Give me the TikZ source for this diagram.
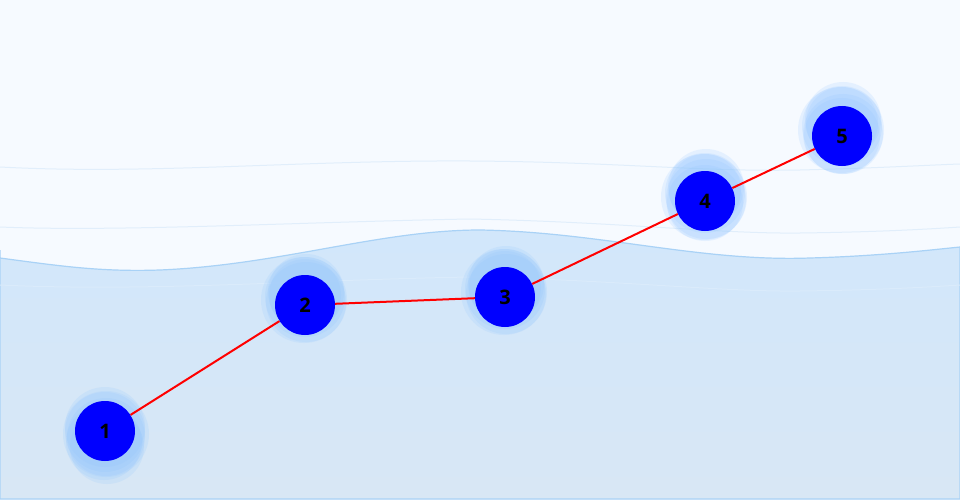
\documentclass[tikz,border=0pt]{standalone}
\usepackage{fontspec}
\setmainfont{Open Sans}
\definecolor{skybg}{HTML}{F6FAFF}
\definecolor{seatop}{HTML}{D2E7FB}
\definecolor{seabot}{HTML}{D8E7F5}
\definecolor{seaedge}{HTML}{A9D2F6}
\definecolor{faint}{HTML}{E1EEFB}
\definecolor{halo}{HTML}{8EC4FF}
\tikzset{
  x=1pt,y=-1pt,
  dot/.style={circle,fill={rgb,255:red,0;green,0;blue,255},minimum size=60pt,inner sep=0pt,font=\bfseries\fontsize{20}{20}\selectfont,text=black},
  halo/.style={fill=halo,fill opacity=0.17,draw=none},
  link/.style={draw=red,line width=2pt}
}
\begin{document}
\begin{tikzpicture}
\fill[skybg] (0,0) rectangle (960,500);
\useasboundingbox (0,0) rectangle (960,500);
% faint lines
\draw[faint,line width=1pt] (0,167) .. controls (150,175) and (300,160) .. (470,161) .. controls (620,162) and (700,172) .. (800,170) .. controls (880,168) and (930,165) .. (960,164);
\draw[faint,line width=1pt] (0,227) .. controls (120,232) and (300,222) .. (470,219) .. controls (620,222) and (720,234) .. (800,233) .. controls (880,232) and (930,229) .. (960,227);
% sea
\shade[top color=seatop,bottom color=seabot,draw=seaedge,line width=1.2pt]
  (0,250) -- (0,258) .. controls (60,266) and (100,272) .. (160,270) .. controls (280,265) and (380,230) .. (480,230) .. controls (600,232) and (700,262) .. (810,258) .. controls (880,256) and (930,250) .. (960,247) -- (960,499) -- (0,499) -- cycle;
\draw[faint!50!seatop,line width=1pt] (0,285) .. controls (150,292) and (300,280) .. (470,277) .. controls (620,280) and (720,292) .. (800,291) .. controls (880,290) and (930,287) .. (960,285);
% halos
\foreach \dx/\dy/\r in {0/0/40,1/5/39,-1/10/38,2/15/37,0/-5/40,1/2/43}{
  \fill[halo] (105+\dx,432+\dy) circle (\r);
}
\foreach \dx/\dy/\r in {0/-5/40,1/-10/38,-1/-2/43,0/-7/36,1/0/40}{
  \fill[halo] (305+\dx,302+\dy) circle (\r);
}
\foreach \dx/\dy/\r in {0/-5/40,1/-10/38,-1/-2/43,0/-7/36,1/0/40}{
  \fill[halo] (505+\dx,294+\dy) circle (\r);
}
\foreach \dx/\dy/\r in {0/-8/40,1/-14/38,-1/-4/43,0/-11/36,1/-2/40,0/2/38}{
  \fill[halo] (705+\dx,201+\dy) circle (\r);
}
\foreach \dx/\dy/\r in {0/-10/40,1/-16/38,-1/-6/43,0/-13/36,1/-2/40,0/0/38}{
  \fill[halo] (842+\dx,136+\dy) circle (\r);
}
% nodes
\node[dot] (n1) at (105,431) {1};
\node[dot] (n2) at (305,305) {2};
\node[dot] (n3) at (505,297) {3};
\node[dot] (n4) at (705,201) {4};
\node[dot] (n5) at (842,136) {5};
\draw[link] (n1) -- (n2);
\draw[link] (n2) -- (n3);
\draw[link] (n3) -- (n4);
\draw[link] (n4) -- (n5);
\end{tikzpicture}
\end{document}
